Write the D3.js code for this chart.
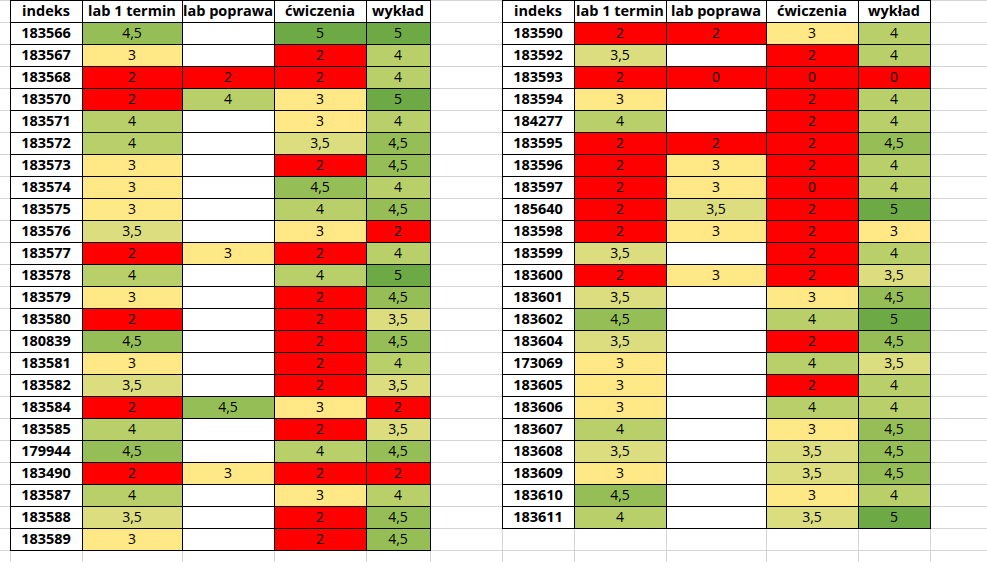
<!DOCTYPE html>
<html><head><meta charset="utf-8">
<script src="https://cdn.jsdelivr.net/npm/d3@7"></script>
<style>body{margin:0;background:#fff}svg{display:block}</style>
</head><body><svg id="sheet" width="987" height="562"></svg>
<script>
const headers = ["indeks", "lab 1 termin", "lab poprawa", "ćwiczenia", "wykład"];

// null = empty cell
const leftIds = ["183566","183567","183568","183570","183571","183572","183573","183574","183575","183576","183577","183578","183579","183580","180839","183581","183582","183584","183585","179944","183490","183587","183588","183589"];
const leftLab1 = [4.5,3,2,2,4,4,3,3,3,3.5,2,4,3,2,4.5,3,3.5,2,4,4.5,2,4,3.5,3];
const leftPopr = [null,null,2,4,null,null,null,null,null,null,3,null,null,null,null,null,null,4.5,null,null,3,null,null,null];
const leftCw = [5,2,2,3,3,3.5,2,4.5,4,3,2,4,2,2,2,2,2,3,2,4,2,3,2,2];
const leftWyk = [5,4,4,5,4,4.5,4.5,4,4.5,2,4,5,4.5,3.5,4.5,4,3.5,2,3.5,4.5,2,4,4.5,4.5];

const rightIds = ["183590","183592","183593","183594","184277","183595","183596","183597","185640","183598","183599","183600","183601","183602","183604","173069","183605","183606","183607","183608","183609","183610","183611"];
const rightLab1 = [2,3.5,2,3,4,2,2,2,2,2,3.5,2,3.5,4.5,3.5,3,3,3,4,3.5,3,4.5,4];
const rightPopr = [2,null,0,null,null,2,3,3,3.5,3,null,3,null,null,null,null,null,null,null,null,null,null,null];
const rightCw = [3,2,0,2,2,2,2,0,2,2,2,2,3,4,2,4,2,4,3,3.5,3.5,3,3.5];
const rightWyk = [4,4,0,4,4,4.5,4,4,5,3,4,3.5,4.5,5,4.5,3.5,4,4,4.5,4.5,4.5,4,5];

const grades = [3, 3.5, 4, 4.5, 5];
const gradeColors = ["#FFE885", "#DBDD7E", "#B9D06A", "#96BE56", "#6DAA45"];
const color = d3.scaleOrdinal().domain(grades).range(gradeColors);
const fill = v => v == null ? "#fff" : v < 3 ? "#FF0000" : color(v);
const fmt = v => v == null ? "" : String(v).replace(".", ",");

const svg = d3.select("#sheet");
const rowH = 22;
const y = d3.scaleLinear().domain([0, 1]).range([0, rowH]);

// background spreadsheet grid
const gridX = [10, 82, 182, 274, 366, 430, 502, 574, 666, 766, 858, 930];
svg.append("g").selectAll("line").data(gridX).join("line")
  .attr("x1", d => d + 0.5).attr("x2", d => d + 0.5).attr("y1", 0).attr("y2", 562)
  .attr("stroke", "#d4d4d4");
svg.append("g").selectAll("line").data(d3.range(0, 27)).join("line")
  .attr("x1", 0).attr("x2", 987).attr("y1", d => y(d) + 0.5).attr("y2", d => y(d) + 0.5)
  .attr("stroke", "#d4d4d4");

function drawTable(x0, edges, ids, cols) {
  const g = svg.append("g");
  const rows = ids.map((id, i) => [id].concat(cols.map(c => c[i])));
  const all = [headers].concat(rows);
  all.forEach((row, r) => {
    row.forEach((v, c) => {
      const xa = edges[c], xb = edges[c + 1];
      const isNum = r > 0 && c > 0;
      g.append("rect").attr("x", xa + 0.5).attr("y", y(r) + 0.5)
        .attr("width", xb - xa).attr("height", rowH)
        .attr("fill", isNum ? fill(v) : "#fff")
        .attr("stroke", "#000").attr("stroke-width", 1);
      g.append("text").attr("x", (xa + xb) / 2).attr("y", y(r) + rowH / 2 + 1)
        .attr("text-anchor", "middle").attr("dominant-baseline", "middle")
        .attr("font-family", "Open Sans, sans-serif")
        .attr("font-size", isNum ? 14 : 14.5)
        .attr("font-weight", isNum ? "normal" : "bold")
        .attr("fill", "#000")
        .text(isNum ? fmt(v) : v);
    });
  });
}

drawTable(10, [10, 82, 182, 274, 366, 430], leftIds, [leftLab1, leftPopr, leftCw, leftWyk]);
drawTable(502, [502, 574, 666, 766, 858, 930], rightIds, [rightLab1, rightPopr, rightCw, rightWyk]);
</script></body></html>
